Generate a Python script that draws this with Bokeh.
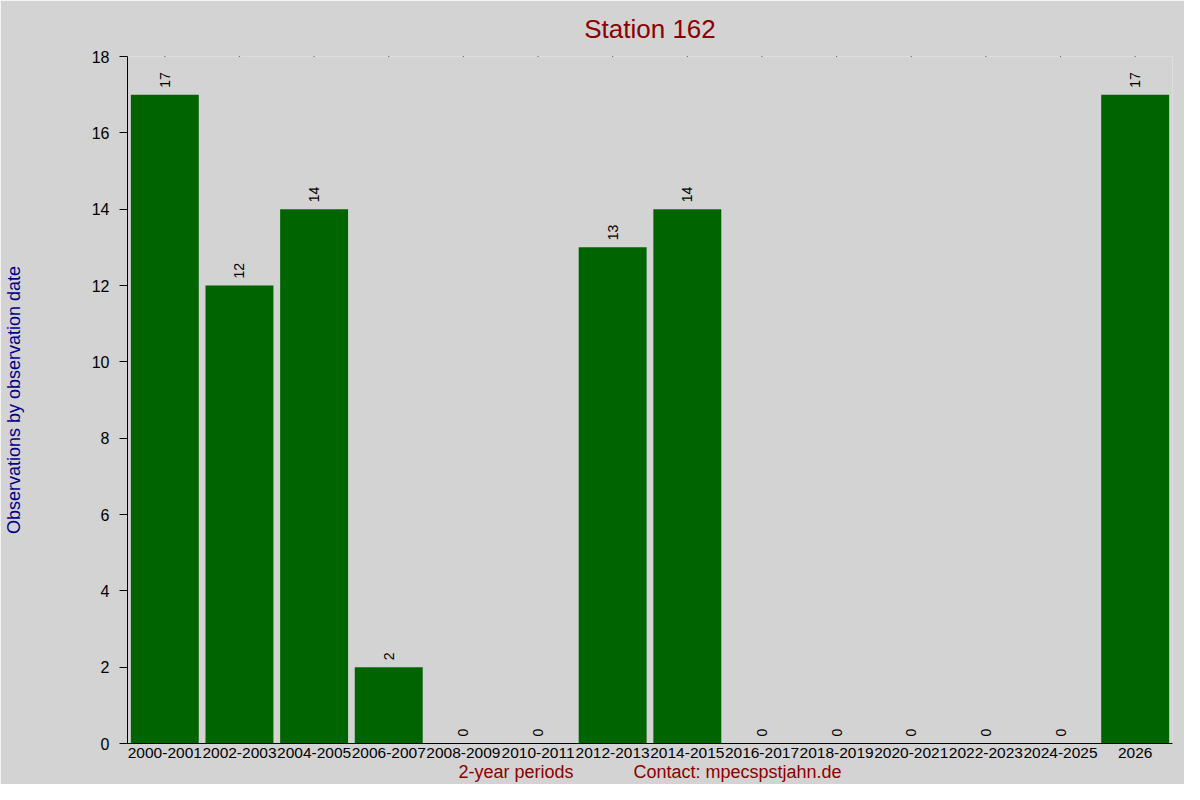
import math
from bokeh.plotting import figure
from bokeh.models import FixedTicker, Range1d, ColumnDataSource
from bokeh.core.properties import value
from bokeh.embed import file_html
from bokeh.resources import INLINE

periods = ["2000-2001", "2002-2003", "2004-2005", "2006-2007", "2008-2009",
           "2010-2011", "2012-2013", "2014-2015", "2016-2017", "2018-2019",
           "2020-2021", "2022-2023", "2024-2025", "2026"]
counts = [17, 12, 14, 2, 0, 0, 13, 14, 0, 0, 0, 0, 0, 17]
y_ticks = [0, 2, 4, 6, 8, 10, 12, 14, 16, 18]
title_text = "Station 162"
y_label = "Observations by observation date"
x_label = "2-year periods" + "\u00a0" * 12 + "Contact: mpecspstjahn.de"

FONT = "Liberation Sans"
BG = "#d3d3d3"
DARKRED = "#8b0000"
y_top = max(y_ticks)

src = ColumnDataSource(dict(period=periods, count=counts, label=[str(c) for c in counts],
                            top_mark=[y_top] * len(periods)))

p = figure(x_range=periods, y_range=Range1d(0, y_top), width=1184, height=784,
           output_backend="svg", toolbar_location=None,
           min_border_left=127, min_border_right=12, min_border_top=56, min_border_bottom=39)
p.x_range.range_padding = 0
p.background_fill_color = BG
p.border_fill_color = BG
p.outline_line_color = None
p.grid.visible = False

p.title.text = title_text
p.title.align = "center"
p.title.vertical_align = "top"
p.title.text_font = FONT
p.title.text_font_size = "26px"
p.title.text_font_style = "normal"
p.title.text_color = DARKRED
p.title.standoff = 22

p.vbar(x="period", top="count", width=0.91, source=src,
       fill_color="#006400", line_color=None)
p.text(x="period", y="count", text="label", source=src, angle=math.pi / 2,
       text_align="left", text_baseline="middle", y_offset=-7,
       text_font=value(FONT), text_font_size="14px", text_color="black")
# tiny tick dots along the top edge
p.scatter(x="period", y="top_mark", source=src, marker="square", size=1.2,
          fill_color="black", line_color=None)

xa = p.xaxis[0]
xa.axis_label = x_label
xa.axis_label_text_font = FONT
xa.axis_label_text_font_size = "18px"
xa.axis_label_text_font_style = "normal"
xa.axis_label_text_color = DARKRED
xa.axis_label_standoff = 1
xa.major_label_text_font = FONT
xa.major_label_text_font_size = "15.5px"
xa.major_label_text_color = "black"
xa.major_label_standoff = 4
xa.major_tick_line_color = None
xa.major_tick_out = 0
xa.major_tick_in = 0
xa.axis_line_color = "black"

ya = p.yaxis[0]
ya.ticker = FixedTicker(ticks=y_ticks)
ya.minor_tick_line_color = None
ya.axis_label = y_label
ya.axis_label_text_font = FONT
ya.axis_label_text_font_size = "18px"
ya.axis_label_text_font_style = "normal"
ya.axis_label_text_color = "#00008b"
ya.axis_label_standoff = 65
ya.major_label_text_font = FONT
ya.major_label_text_font_size = "16px"
ya.major_label_text_color = "black"
ya.major_label_standoff = 10
ya.major_tick_out = 8
ya.major_tick_in = 0
ya.axis_line_color = "black"
ya.major_tick_line_color = "black"

open("out.html", "w").write(file_html(p, INLINE))
